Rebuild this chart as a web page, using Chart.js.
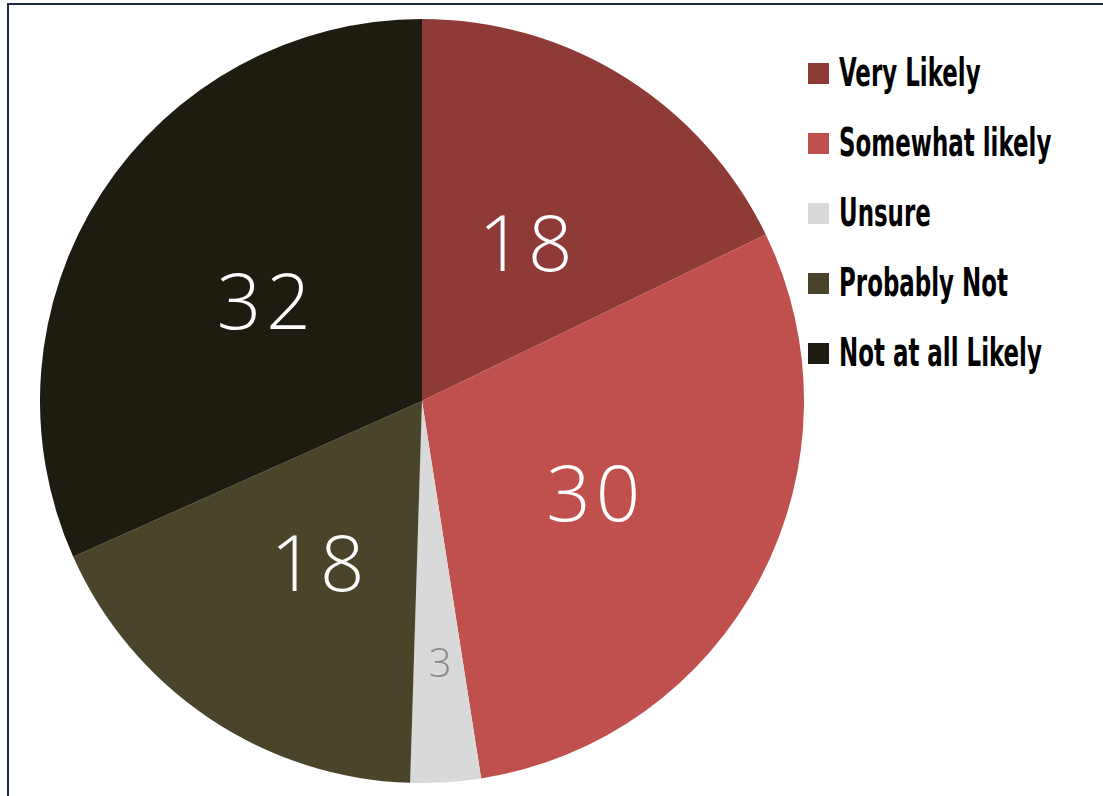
<!DOCTYPE html>
<html>
<head>
<meta charset="utf-8">
<script src="https://cdn.jsdelivr.net/npm/chart.js@4/dist/chart.umd.min.js"></script>
<style>
  html, body { margin: 0; padding: 0; background: #fff; width: 1103px; height: 796px; overflow: hidden; }
  #frame { position: absolute; left: 7px; top: 3px; width: 1200px; height: 900px; border-left: 2px solid #1c2a42; border-top: 2px solid #1c2a42; box-sizing: border-box; }
  #wrap { position: absolute; left: 40px; top: 19px; width: 764px; height: 764px; }
  #legend { position: absolute; left: 808px; top: 0; font-family: "Liberation Sans Narrow", "DejaVu Sans Condensed", "Liberation Sans", sans-serif; font-weight: bold; color: #000; }
  .item { position: absolute; left: 0; height: 30px; white-space: nowrap; }
  .sw { position: absolute; left: 0; top: 5px; width: 21px; height: 21px; }
  .tx { position: absolute; left: 31px; top: 0; font-size: 30px; line-height: 30px; transform: scale(0.85, 1.3); transform-origin: left center; }
</style>
</head>
<body>
<div id="frame"></div>
<div id="wrap"><canvas id="c"></canvas></div>
<div id="legend"></div>
<script>
const categories = ["Very Likely", "Somewhat likely", "Unsure", "Probably Not", "Not at all Likely"];
const values = [18, 30, 3, 18, 32];
const colors = ["#8e3a37", "#c0504d", "#d9d9d9", "#4a452a", "#1e1b10"];
const labelColors = ["#ffffff", "#ffffff", "#888888", "#ffffff", "#ffffff"];
const labelSizes = [78, 78, 40, 78, 78];
const labelRadius = [0.5, 0.5, 0.685, 0.5, 0.5];

const sliceLabels = {
  id: 'sliceLabels',
  afterDatasetsDraw(chart) {
    const ctx = chart.ctx;
    const meta = chart.getDatasetMeta(0);
    meta.data.forEach((arc, i) => {
      const p = arc.getProps(['x','y','startAngle','endAngle','outerRadius'], true);
      const mid = (p.startAngle + p.endAngle) / 2;
      const r = p.outerRadius * labelRadius[i];
      const x = p.x + Math.cos(mid) * r;
      const y = p.y + Math.sin(mid) * r;
      const big = labelSizes[i] > 50;
      const sp = big ? 5 : 1;
      ctx.save();
      ctx.fillStyle = labelColors[i];
      ctx.font = '300 ' + labelSizes[i] + 'px "Open Sans", "Lato", sans-serif';
      ctx.letterSpacing = sp + 'px';
      ctx.textAlign = 'center';
      ctx.textBaseline = 'alphabetic';
      ctx.fillText(String(values[i]), x + sp / 2 + (big ? 2 : 2), y + labelSizes[i] * 0.37 + (big ? 3 : 0));
      ctx.restore();
    });
  }
};

new Chart(document.getElementById('c'), {
  type: 'pie',
  data: {
    labels: categories,
    datasets: [{ data: values, backgroundColor: colors, borderWidth: 0 }]
  },
  options: {
    responsive: true,
    maintainAspectRatio: false,
    animation: false,
    layout: { padding: 0 },
    plugins: { legend: { display: false }, tooltip: { enabled: false } }
  },
  plugins: [sliceLabels]
});

const legend = document.getElementById('legend');
categories.forEach((c, i) => {
  const d = document.createElement('div');
  d.className = 'item';
  d.style.top = (58 + i * 70) + 'px';
  d.innerHTML = '<div class="sw" style="background:' + colors[i] + '"></div><div class="tx">' + c + '</div>';
  legend.appendChild(d);
});
</script>
</body>
</html>
